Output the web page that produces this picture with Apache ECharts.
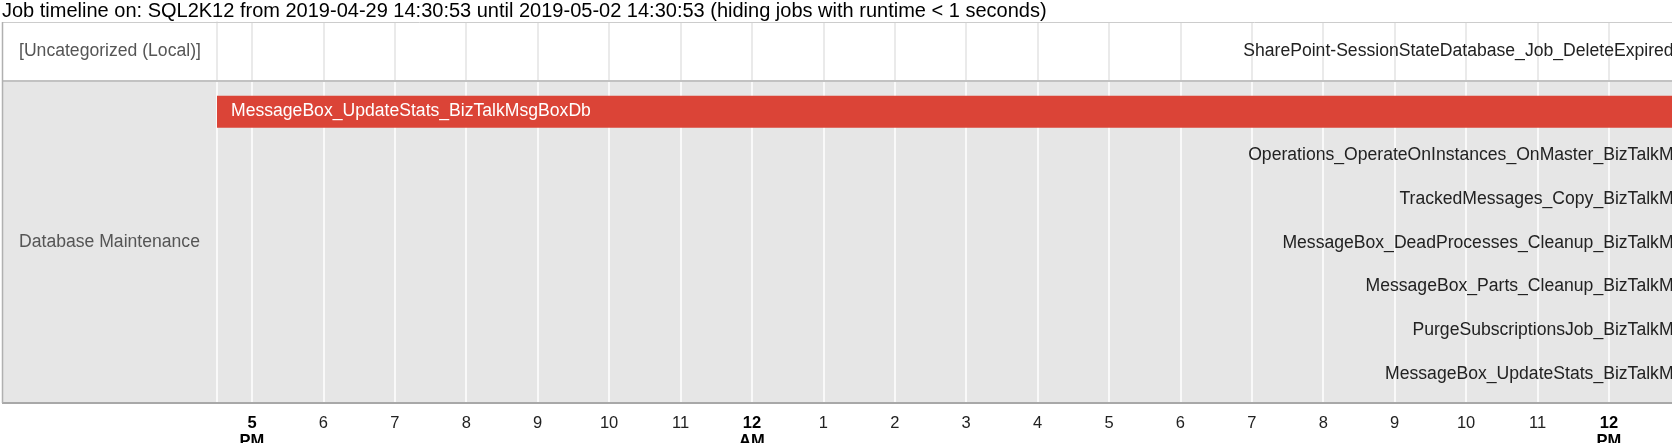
<!DOCTYPE html>
<html><head><meta charset="utf-8">
<script src="https://cdn.jsdelivr.net/npm/echarts@6/dist/echarts.min.js"></script>
<style>html,body{margin:0;padding:0;background:#fff;}#c{width:1672px;height:443px;}</style>
</head><body><div id="c"></div>
<script>
// ---------- data ----------
const titleText = 'Job timeline on: SQL2K12 from 2019-04-29 14:30:53 until 2019-05-02 14:30:53 (hiding jobs with runtime < 1 seconds)';
const categories = ['[Uncategorized (Local)]', 'Database Maintenance'];
const jobNames = [
  'SharePoint-SessionStateDatabase_Job_DeleteExpiredSessions',
  'MessageBox_UpdateStats_BizTalkMsgBoxDb',
  'Operations_OperateOnInstances_OnMaster_BizTalkMsgBoxDb',
  'TrackedMessages_Copy_BizTalkMsgBoxDb',
  'MessageBox_DeadProcesses_Cleanup_BizTalkMsgBoxDb',
  'MessageBox_Parts_Cleanup_BizTalkMsgBoxDb',
  'PurgeSubscriptionsJob_BizTalkMsgBoxDb',
  'MessageBox_UpdateStats_BizTalkMsgBoxDb'
];
const jobCategory = [0, 1, 1, 1, 1, 1, 1, 1];
const jobStart = ['2019-04-30 13:59:20', '2019-04-29 16:30:36', '2019-04-30 13:59:20', '2019-04-30 13:59:20',
                  '2019-04-30 13:59:20', '2019-04-30 13:59:20', '2019-04-30 13:59:20', '2019-04-30 13:59:20'];
const jobEnd   = ['2019-04-30 13:59:45', '2019-04-30 13:55:20', '2019-04-30 13:59:40', '2019-04-30 13:59:37',
                  '2019-04-30 13:59:39', '2019-04-30 13:59:38', '2019-04-30 13:59:37', '2019-04-30 14:00:15'];
const viewStart = '2019-04-29 16:30:36';
const viewEnd = '2019-04-30 12:53:00';
const tickTimes = ['2019-04-29 17:00','2019-04-29 18:00','2019-04-29 19:00','2019-04-29 20:00','2019-04-29 21:00',
  '2019-04-29 22:00','2019-04-29 23:00','2019-04-30 00:00','2019-04-30 01:00','2019-04-30 02:00','2019-04-30 03:00',
  '2019-04-30 04:00','2019-04-30 05:00','2019-04-30 06:00','2019-04-30 07:00','2019-04-30 08:00','2019-04-30 09:00',
  '2019-04-30 10:00','2019-04-30 11:00','2019-04-30 12:00'];
const tickLabels = ['5\nPM','6','7','8','9','10','11','12\nAM','1','2','3','4','5','6','7','8','9','10','11','12\nPM'];
const categoryColors = ['#4285f4', '#db4437'];

// ---------- helpers ----------
const BASE = Date.UTC(2019, 3, 29, 0, 0, 0);
function toHours(s) {
  const m = s.match(/(\d+)-(\d+)-(\d+) (\d+):(\d+)(?::(\d+))?/);
  const t = Date.UTC(+m[1], +m[2] - 1, +m[3], +m[4], +m[5], +(m[6] || 0));
  return (t - BASE) / 3600000;
}
const FONT = '"Liberation Sans", Arial, sans-serif';
const BAR_FS = 17.6;
const measureCtx = document.createElement('canvas').getContext('2d');
measureCtx.font = BAR_FS + 'px ' + FONT;

const tickHours = tickTimes.map(toHours);
const xMin = toHours(viewStart), xMax = toHours(viewEnd);

// lane within each category, in listed order
const laneCounter = categories.map(() => 0);
const jobLane = jobCategory.map(c => laneCounter[c]++);

function dataFor(cat) {
  const out = [];
  jobNames.forEach((n, i) => {
    if (jobCategory[i] === cat) out.push([toHours(jobStart[i]), toHours(jobEnd[i]), jobLane[i], i]);
  });
  return out;
}

function renderItem(params, api) {
  const s = api.value(0), e = api.value(1), lane = api.value(2), idx = api.value(3);
  const p0 = api.coord([s, lane]), p1 = api.coord([e, lane]);
  const h = 32;
  const w = Math.max(p1[0] - p0[0], 2);
  const name = jobNames[idx];
  const tw = measureCtx.measureText(name).width;
  const inside = tw + 28 < w;
  const children = [{
    type: 'rect',
    shape: { x: p0[0], y: p0[1] - h / 2, width: w, height: h },
    style: { fill: categoryColors[jobCategory[idx]] }
  }, {
    type: 'text',
    style: {
      text: name,
      x: inside ? p0[0] + 14 : p0[0] - 6,
      y: p0[1],
      align: inside ? 'left' : 'right',
      verticalAlign: 'middle',
      fill: inside ? '#ffffff' : '#222222',
      fontSize: BAR_FS,
      fontFamily: FONT
    }
  }];
  return { type: 'group', children };
}

// ---------- layout ----------
const L = 217, TOP = 22, MID = 81, BOT = 403, BOXL = 2;

const chart = echarts.init(document.getElementById('c'), null, { renderer: 'canvas' });
const option = {
  animation: false,
  title: {
    text: titleText, left: 0, top: 1, padding: [0, 2],
    textStyle: { fontSize: 20, fontWeight: 'normal', color: '#000', fontFamily: FONT }
  },
  grid: [
    { left: L, right: 0, top: TOP, height: MID - TOP, show: true, backgroundColor: '#ffffff', borderWidth: 0,
      containLabel: false, outerBoundsMode: 'none' },
    { left: L, right: 0, top: MID, height: BOT - MID, show: true, backgroundColor: '#e6e6e6', borderWidth: 0,
      containLabel: false, outerBoundsMode: 'none' }
  ],
  xAxis: [
    { gridIndex: 0, type: 'value', min: xMin, max: xMax,
      axisLine: { show: false }, axisTick: { show: false, customValues: tickHours },
      axisLabel: { show: false, customValues: tickHours },
      splitLine: { show: true, lineStyle: { color: '#e3e3e3', width: 1.5 } } },
    { gridIndex: 1, type: 'value', min: xMin, max: xMax,
      axisLine: { show: false }, axisTick: { show: false, customValues: tickHours },
      axisLabel: {
        show: true, customValues: tickHours, margin: 11,
        formatter: function (v) {
          let i = tickHours.findIndex(t => Math.abs(t - v) < 1e-6);
          if (i < 0) return '';
          const lab = tickLabels[i];
          if (lab.indexOf('\n') >= 0) {
            const p = lab.split('\n');
            return '{b|' + p[0] + '}\n{b|' + p[1] + '}';
          }
          return '{n|' + lab + '}';
        },
        rich: {
          b: { fontSize: 16.5, fontWeight: 'bold', color: '#000', fontFamily: FONT, lineHeight: 18 },
          n: { fontSize: 16.5, color: '#222', fontFamily: FONT, lineHeight: 18 }
        }
      },
      splitLine: { show: true, lineStyle: { color: '#ffffff', width: 1.5 } } }
  ],
  yAxis: [
    { gridIndex: 0, type: 'value', min: -0.5, max: 0.5, inverse: true,
      axisLabel: { show: false }, axisTick: { show: false }, splitLine: { show: false },
      axisLine: { show: true, lineStyle: { color: '#e3e3e3', width: 1.5 } } },
    { gridIndex: 1, type: 'value', min: -0.7, max: 6.66, inverse: true,
      axisLabel: { show: false }, axisTick: { show: false }, splitLine: { show: false },
      axisLine: { show: true, lineStyle: { color: '#ffffff', width: 1.5 } } }
  ],
  series: [
    { type: 'custom', xAxisIndex: 0, yAxisIndex: 0, renderItem, clip: true, data: dataFor(0),
      encode: { x: [0, 1], y: 2 } },
    { type: 'custom', xAxisIndex: 1, yAxisIndex: 1, renderItem, clip: true, data: dataFor(1),
      encode: { x: [0, 1], y: 2 } }
  ],
  graphic: [
    { type: 'rect', z: -1, shape: { x: BOXL, y: TOP, width: L - BOXL, height: MID - TOP }, style: { fill: '#ffffff' } },
    { type: 'rect', z: -1, shape: { x: BOXL, y: MID, width: L - BOXL, height: BOT - MID }, style: { fill: '#e6e6e6' } },
    { type: 'text', z: 10, style: { text: categories[0], x: 19, y: (TOP + MID) / 2, verticalAlign: 'middle',
      fontSize: 17.6, fontFamily: FONT, fill: '#555555' } },
    { type: 'text', z: 10, style: { text: categories[1], x: 19, y: (MID + BOT) / 2, verticalAlign: 'middle',
      fontSize: 17.6, fontFamily: FONT, fill: '#555555' } },
    { type: 'line', z: 100, shape: { x1: BOXL, y1: TOP + 0.5, x2: 1672, y2: TOP + 0.5 }, style: { stroke: '#cccccc', lineWidth: 1 } },
    { type: 'line', z: 100, shape: { x1: BOXL, y1: MID, x2: 1672, y2: MID }, style: { stroke: '#c2c2c2', lineWidth: 2 } },
    { type: 'line', z: 100, shape: { x1: BOXL, y1: BOT, x2: 1672, y2: BOT }, style: { stroke: '#a8a8a8', lineWidth: 2 } },
    { type: 'line', z: 100, shape: { x1: BOXL + 0.5, y1: TOP, x2: BOXL + 0.5, y2: BOT }, style: { stroke: '#b0b0b0', lineWidth: 1.5 } }
  ]
};
chart.setOption(option);
</script></body></html>
